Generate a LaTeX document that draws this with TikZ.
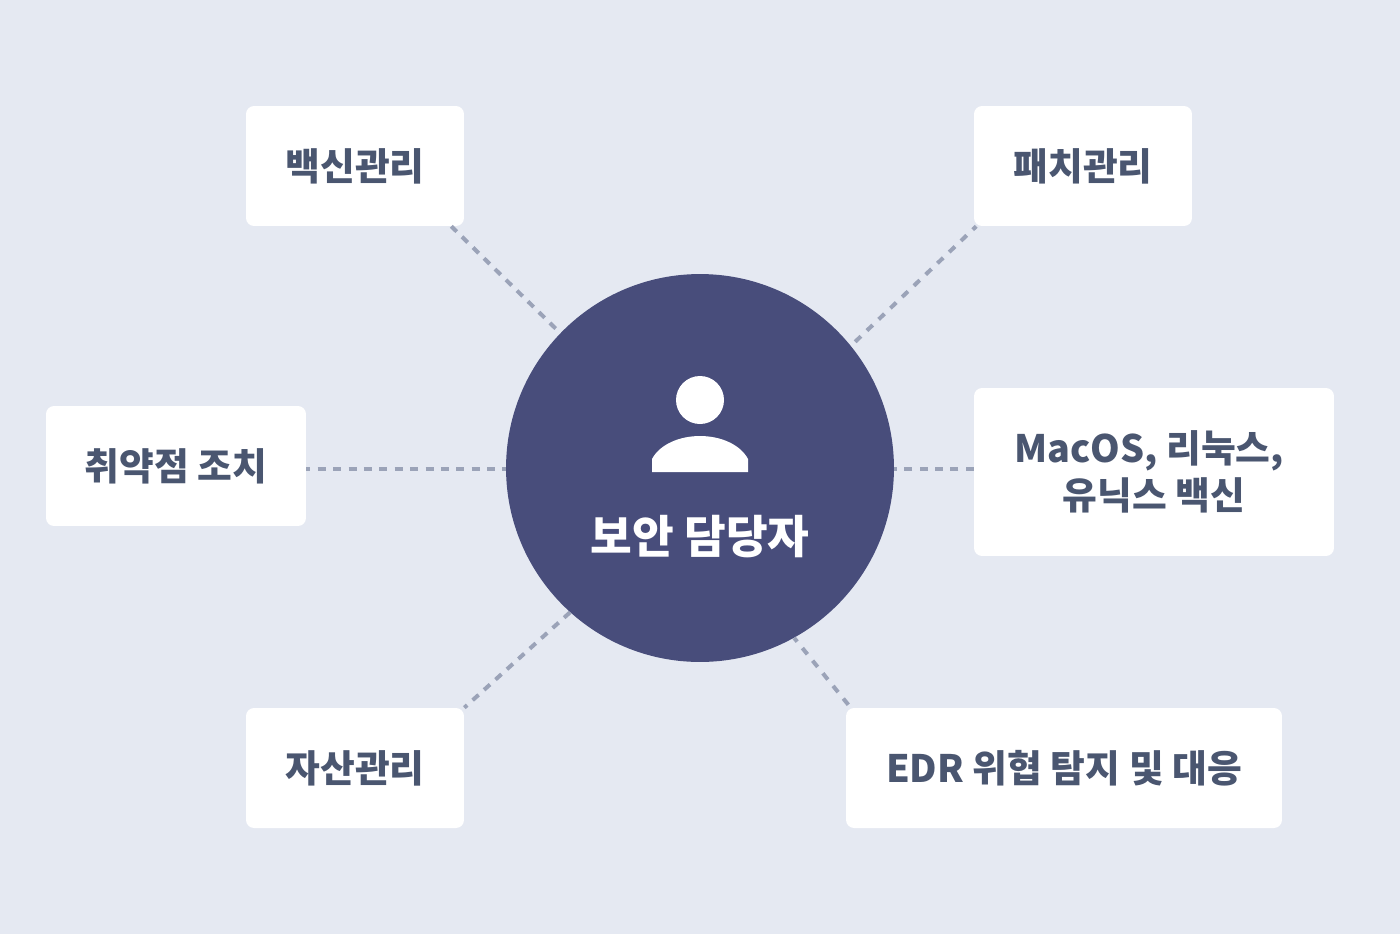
\documentclass[tikz,border=0pt]{standalone}
\usepackage{xcolor}
\usepackage{fontspec}
\setmainfont{Noto Sans CJK KR}
\usetikzlibrary{positioning}

\definecolor{pagebg}{HTML}{E5E9F2}
\definecolor{hubfill}{HTML}{484D7B}
\definecolor{boxtext}{HTML}{4A5670}
\definecolor{linkgray}{HTML}{9BA3B8}

\begin{document}
\begin{tikzpicture}[
  x=0.02cm, y=-0.02cm,
  task/.style={fill=white, rounded corners=0.16cm, inner sep=0pt,
               minimum height=2.4cm, align=center, text=boxtext,
               font=\fontsize{21.5}{27}\selectfont\bfseries},
  link/.style={draw=linkgray, line width=0.08cm,
               dash pattern=on 0.16cm off 0.148cm},
  longlink/.style={link, dash pattern=on 0.16cm off 0.165cm},
  hub/.style={circle, fill=hubfill, minimum size=7.76cm, inner sep=0pt},
]

% --- page ---
\fill[pagebg] (0,0) rectangle (1400,934);
\useasboundingbox (0,0) rectangle (1400,934);

% --- centre ---
\node[hub] (hubc) at (700,468) {};
\node[circle, fill=white, minimum size=0.96cm, inner sep=0pt] (head) at (700,400) {};
\fill[white] (652,472) -- (652,459) .. controls (660,444) and (680,436) .. (700,436)
  .. controls (720,436) and (740,444) .. (748,459) -- (748,472) -- cycle;
\node[text=white, font=\fontsize{25.8}{30}\selectfont\bfseries] (hubl) at (700,537) {보안 담당자};

% --- tasks ---
\node[task, minimum width=4.36cm] (vacc) at (355,166) {백신관리};
\node[task, minimum width=4.36cm] (patch) at (1083,166) {패치관리};
\node[task, minimum width=5.2cm] (vuln) at (176,466) {취약점 조치};
\node[task, minimum width=7.2cm, minimum height=3.36cm] (macos) at (1154,472) {MacOS, 리눅스,\kern0.2cm\\유닉스 백신};
\node[task, minimum width=4.36cm] (asset) at (355,768) {자산관리};
\node[task, minimum width=8.72cm] (edr) at (1064,768) {EDR 위협 탐지 및 대응};

% --- links ---
\draw[link, dash phase=0.01cm] ([xshift=-0.26cm]vacc.south east) -- (hubc.136.5);
\draw[longlink, dash phase=0.064cm] ([xshift=0.05cm]patch.south west) -- (hubc.39.2);
\draw[link, dash phase=0.08cm] ([yshift=-0.01cm]vuln.east |- hubc.west) -- ([yshift=-0.01cm]hubc.west);
\draw[link] ([yshift=-0.01cm]macos.west |- hubc.east) -- ([yshift=-0.01cm]hubc.east);
\draw[link, dash phase=0.084cm] (asset.north east) -- (hubc.228.5);
\draw[longlink, dash phase=0.25cm] ([xshift=0.1cm]edr.north west) -- (hubc.-61.2);

\end{tikzpicture}
\end{document}
